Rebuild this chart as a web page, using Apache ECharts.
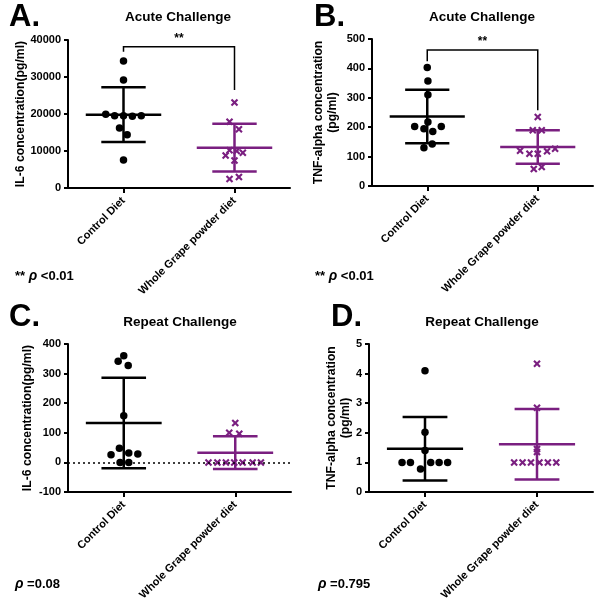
<!DOCTYPE html>
<html><head><meta charset="utf-8">
<script src="https://cdn.jsdelivr.net/npm/echarts@6/dist/echarts.min.js"></script>
<style>html,body{margin:0;padding:0;background:#fff}#c{width:604px;height:611px}</style>
</head><body><div id="c"></div>
<script>
const categories = ['Control Diet', 'Whole Grape powder diet'];

// Panel A: IL-6 acute
const aCtrlVals = [34300, 29200, 19900, 19500, 19500, 19400, 19500, 16200, 14400, 7600];
const aCtrlJit  = [0, 0, -0.16, -0.08, 0, 0.08, 0.16, -0.036, 0.033, 0];
const aGrapeVals = [23100, 17900, 15900, 10200, 10000, 9500, 8800, 7400, 2400, 3000];
const aGrapeJit  = [0, -0.045, 0.04, -0.045, 0.02, 0.075, -0.08, 0, -0.045, 0.04];
const aMeans = [19800, 10900];
const aSDs = [7400, 6450];
const aBracket = [38200, 36800, 26500];
const aTicks = [0, 40000, 10000];

// Panel B: TNF-alpha acute
const bCtrlVals = [403, 357, 310, 218, 202, 195, 202, 185, 143, 130];
const bCtrlJit  = [0, 0.006, 0.006, 0.006, -0.114, -0.03, 0.127, 0.05, 0.045, -0.03];
const bGrapeVals = [235, 190, 190, 127, 118, 120, 110, 110, 65, 58];
const bGrapeJit  = [0, -0.045, 0.036, 0.157, 0.084, -0.16, -0.075, 0, 0.036, -0.036];
const bMeans = [236, 133];
const bSDs = [91, 57];
const bBracket = [463, 424, 258];
const bTicks = [0, 500, 100];

// Panel C: IL-6 repeat
const cCtrlVals = [360, 342, 327, 158, 48, 26, 32, 28, 0, 0];
const cCtrlJit  = [0, -0.05, 0.04, 0, -0.039, -0.114, 0.045, 0.126, -0.033, 0.045];
const cGrapeVals = [133, 100, 97, 0, 0, 0, 0, 0, 0, 0];
const cGrapeJit  = [0, -0.054, 0.036, -0.24, -0.16, -0.084, -0.009, 0.066, 0.156, 0.23];
const cMeans = [133, 33];
const cSDs = [153, 55];
const cTicks = [-100, 400, 100];

// Panel D: TNF-alpha repeat
const dCtrlVals = [4.1, 2.02, 1.4, 1.0, 1.0, 1.0, 1.0, 1.0, 0.78];
const dCtrlJit  = [0, 0, 0, -0.205, -0.13, 0.051, 0.126, 0.202, -0.04];
const dGrapeVals = [4.33, 2.85, 1.45, 1.35, 1.0, 1.0, 1.0, 1.0, 1.0, 1.0];
const dGrapeJit  = [0, 0, 0, 0, -0.204, -0.129, -0.054, 0.022, 0.097, 0.172];
const dMeans = [1.46, 1.61];
const dSDs = [1.07, 1.19];
const dTicks = [0, 5, 1];

const BLACK = '#000000';
const PURPLE = '#7a1f80';
const FONT = '"Liberation Sans", Arial, sans-serif';
const XSYM = 'path://M0,2 L2,0 L5,3 L8,0 L10,2 L7,5 L10,8 L8,10 L5,7 L2,10 L0,8 L3,5 Z';

const panels = [
  {grid: {left: 68, top: 40, width: 222, height: 148}, ctrl: aCtrlVals, cj: aCtrlJit, gr: aGrapeVals, gj: aGrapeJit,
   means: aMeans, sds: aSDs, bracket: aBracket, ticks: aTicks, name: 'IL-6 concentration(pg/ml)', nameGap: 41},
  {grid: {left: 372, top: 39, width: 221, height: 147}, ctrl: bCtrlVals, cj: bCtrlJit, gr: bGrapeVals, gj: bGrapeJit,
   means: bMeans, sds: bSDs, bracket: bBracket, ticks: bTicks, name: 'TNF-alpha concentration\n(pg/ml)', nameGap: 33},
  {grid: {left: 68, top: 344, width: 223, height: 148}, ctrl: cCtrlVals, cj: cCtrlJit, gr: cGrapeVals, gj: cGrapeJit,
   means: cMeans, sds: cSDs, bracket: null, ticks: cTicks, name: 'IL-6 concentration(pg/ml)', nameGap: 34, zeroLine: true},
  {grid: {left: 369, top: 344, width: 224, height: 148}, ctrl: dCtrlVals, cj: dCtrlJit, gr: dGrapeVals, gj: dGrapeJit,
   means: dMeans, sds: dSDs, bracket: null, ticks: dTicks, name: 'TNF-alpha concentration\n(pg/ml)', nameGap: 17}
];

const grid = [], xAxis = [], yAxis = [], series = [];
panels.forEach((p, i) => {
  grid.push(p.grid);
  xAxis.push({
    type: 'category', gridIndex: i, data: categories, boundaryGap: true,
    axisLine: {show: true, onZero: false, lineStyle: {color: BLACK, width: 2}},
    axisTick: {show: true, alignWithLabel: true, length: 5, lineStyle: {color: BLACK, width: 2}},
    axisLabel: {rotate: 45, color: BLACK, fontWeight: 'bold', fontSize: 11, fontFamily: FONT, margin: 11},
    splitLine: {show: false}
  });
  xAxis.push({type: 'value', gridIndex: i, min: -0.5, max: 1.5, show: false, axisLine: {onZero: false}});
  yAxis.push({
    type: 'value', gridIndex: i, min: p.ticks[0], max: p.ticks[1], interval: p.ticks[2],
    name: p.name, nameLocation: 'middle', nameRotate: 90, nameGap: p.nameGap, nameMoveOverlap: false,
    nameTextStyle: {color: BLACK, fontWeight: 'bold', fontSize: 12.2, fontFamily: FONT, lineHeight: 13.5},
    axisLine: {show: true, onZero: false, lineStyle: {color: BLACK, width: 2}},
    axisTick: {show: true, length: 4, lineStyle: {color: BLACK, width: 2}},
    axisLabel: {color: BLACK, fontWeight: 'bold', fontSize: 11, fontFamily: FONT, margin: 7, formatter: v => String(v)},
    splitLine: {show: false}
  });
  const xi = i * 2 + 1;
  const errData = p.means.map((m, g) => [g, m, p.sds[g]]);
  const colors = [BLACK, PURPLE];
  errData.forEach((d, g) => {
    series.push({
      type: 'custom', xAxisIndex: xi, yAxisIndex: i, data: [d], z: 3,
      renderItem: (params, api) => {
        const x = api.value(0), m = api.value(1), s = api.value(2);
        const pm = api.coord([x, m]), pt = api.coord([x, m + s]), pb = api.coord([x, m - s]);
        const hm = api.size([0.34, 0])[0], hc = api.size([0.2, 0])[0];
        const st = {stroke: colors[g], lineWidth: 2.5};
        return {type: 'group', children: [
          {type: 'line', shape: {x1: pm[0] - hm, y1: pm[1], x2: pm[0] + hm, y2: pm[1]}, style: st},
          {type: 'line', shape: {x1: pt[0], y1: pt[1], x2: pb[0], y2: pb[1]}, style: st},
          {type: 'line', shape: {x1: pt[0] - hc, y1: pt[1], x2: pt[0] + hc, y2: pt[1]}, style: st},
          {type: 'line', shape: {x1: pb[0] - hc, y1: pb[1], x2: pb[0] + hc, y2: pb[1]}, style: st}
        ]};
      }
    });
  });
  series.push({
    type: 'scatter', xAxisIndex: xi, yAxisIndex: i, z: 4, symbol: 'circle', symbolSize: 7.5,
    itemStyle: {color: BLACK, opacity: 1}, data: p.ctrl.map((v, k) => [0 + p.cj[k], v]),
    markLine: p.zeroLine ? {silent: true, symbol: 'none', label: {show: false},
      lineStyle: {color: BLACK, type: [2, 3], width: 1.5}, data: [{yAxis: 0}]} : undefined
  });
  series.push({
    type: 'scatter', xAxisIndex: xi, yAxisIndex: i, z: 4, symbol: XSYM, symbolSize: 7.5,
    itemStyle: {color: PURPLE, opacity: 1}, data: p.gr.map((v, k) => [1 + p.gj[k], v])
  });
  if (p.bracket) {
    series.push({
      type: 'custom', xAxisIndex: xi, yAxisIndex: i, z: 3, data: [[0, 1].concat(p.bracket)],
      renderItem: (params, api) => {
        const x0 = api.value(0), x1 = api.value(1), top = api.value(2), l = api.value(3), r = api.value(4);
        const a = api.coord([x0, l]), b = api.coord([x0, top]), c = api.coord([x1, top]), d = api.coord([x1, r]);
        return {type: 'group', children: [
          {type: 'polyline', shape: {points: [a, b, c, d]}, style: {stroke: BLACK, lineWidth: 1.5, fill: null}},
          {type: 'text', x: (b[0] + c[0]) / 2, y: b[1] - 2,
           style: {text: '**', fill: BLACK, font: 'bold 12px ' + FONT, textAlign: 'center', textVerticalAlign: 'bottom'}}
        ]};
      }
    });
  }
});

const letter = (t, x, y) => ({type: 'text', left: x, top: y, style: {text: t, fill: BLACK, font: '900 31px ' + FONT}});
const title = (t, cx, cy) => ({type: 'text', x: cx, y: cy, style: {text: t, fill: BLACK, font: 'bold 13.5px ' + FONT, textAlign: 'center', textVerticalAlign: 'middle'}});
const pval = (pre, post, x, y) => ({type: 'text', left: x, top: y, style: {
  text: (pre ? '{b|' + pre + ' }' : '') + '{i|ρ}{b| ' + post + '}',
  rich: {b: {font: 'bold 13px ' + FONT, fill: BLACK}, i: {font: 'italic bold 14px ' + FONT, fill: BLACK}}
}});

const chart = echarts.init(document.getElementById('c'), null, {renderer: 'canvas'});
chart.setOption({
  backgroundColor: '#ffffff',
  animation: false,
  grid, xAxis, yAxis, series,
  graphic: [
    letter('A.', 9, 2), letter('B.', 314, 2), letter('C.', 9, 302), letter('D.', 331, 302),
    title('Acute Challenge', 178, 17), title('Acute Challenge', 482, 17),
    title('Repeat Challenge', 180, 322), title('Repeat Challenge', 482, 322),
    pval('**', '<0.01', 15, 269), pval('**', '<0.01', 315, 269),
    pval('', '=0.08', 15, 577), pval('', '=0.795', 318, 577)
  ]
});
</script></body></html>
